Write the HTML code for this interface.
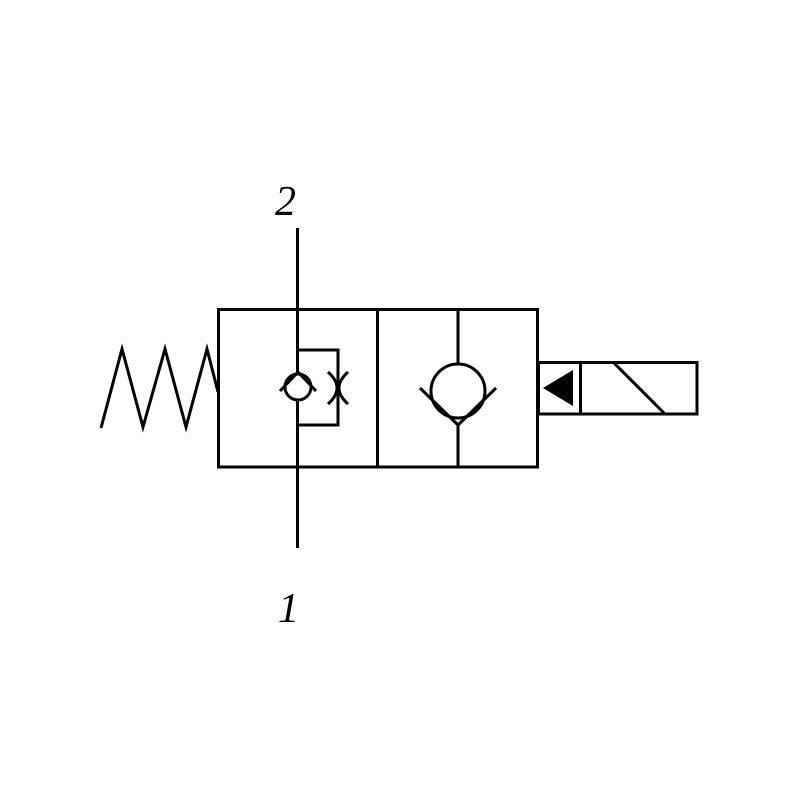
<!DOCTYPE html>
<html><head><style>body{margin:0;background:#fff}</style></head><body>
<svg width="800" height="800" viewBox="0 0 800 800" xmlns="http://www.w3.org/2000/svg">
<rect width="800" height="800" fill="#fff"/>
<g fill="none" stroke="#000" stroke-width="3">
<rect x="218.5" y="309.5" width="319" height="157.5"/>
<line x1="377.5" y1="309" x2="377.5" y2="467"/>
<line x1="297.5" y1="228" x2="297.5" y2="373"/>
<line x1="297.5" y1="401" x2="297.5" y2="548"/>
<circle cx="298" cy="387" r="13"/>
<polyline points="280,391 298,372 316,391"/>
<polyline points="297,350 338,350 338,425 297,425"/>
<path d="M328,372 Q346,388 328,404"/>
<path d="M348,372 Q330,388 348,404"/>
<line x1="458" y1="309" x2="458" y2="364"/>
<line x1="458" y1="424" x2="458" y2="467"/>
<circle cx="458" cy="391" r="27"/>
<polyline points="420,388 458,425 496,388"/>
<rect x="538.5" y="362.5" width="158.5" height="51.5"/>
<line x1="580.5" y1="362" x2="580.5" y2="414"/>
<line x1="613" y1="362" x2="665" y2="414"/>
<polyline points="101,428 122,349 143,427 165,349 186,427 207,349 218,392"/>
</g>
<polygon points="543,388 573,370 573,406" fill="#000"/>
<g font-family="Liberation Serif, serif" font-style="italic" font-size="42" fill="#000">
<text x="275" y="215">2</text>
<text x="278" y="622">1</text>
</g>
</svg>
</body></html>
